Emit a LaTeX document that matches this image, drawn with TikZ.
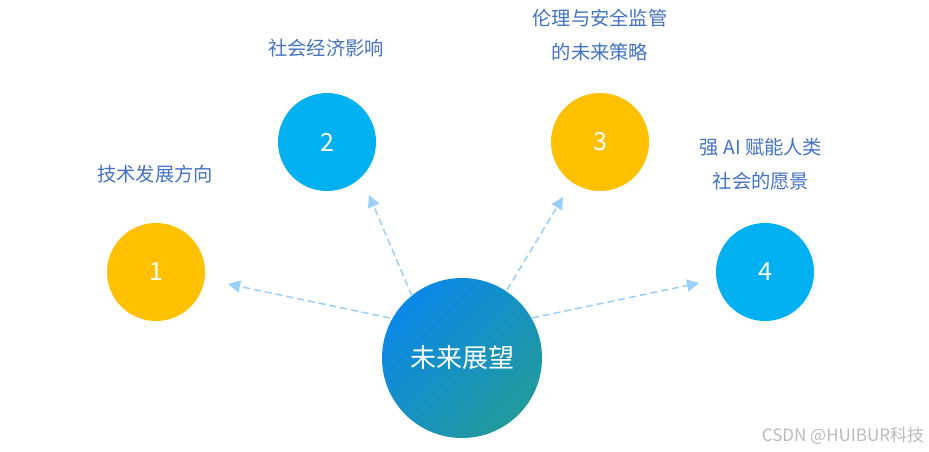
\documentclass[tikz,border=0pt]{standalone}
\usepackage{fontspec}
\setmainfont{Noto Sans CJK SC}
\usetikzlibrary{arrows.meta}
\definecolor{cyellow}{HTML}{FFC000}
\definecolor{ccyan}{HTML}{00B0F0}
\definecolor{ctext}{HTML}{4472C4}
\definecolor{carrow}{HTML}{99CFF8}
\definecolor{cgradA}{HTML}{0B88E8}
\definecolor{cgradB}{HTML}{229A9C}
\definecolor{cwater}{HTML}{BBBBBB}
\begin{document}
\begin{tikzpicture}[x=1pt,y=-1pt,
  ball/.style={circle,minimum size=98pt,inner sep=0pt,text=white,font=\fontsize{25}{25}\selectfont},
  yball/.style={ball,fill=cyellow},
  cball/.style={ball,fill=ccyan},
  lbl/.style={text=ctext,font=\fontsize{19.3}{34}\selectfont,align=center},
  conn/.style={draw=carrow,line width=1.5pt,dash pattern=on 7pt off 4pt,
    -{Triangle[length=12pt,width=12pt,fill=carrow]}}]
\useasboundingbox (0,0) rectangle (929,451);
\fill[white] (0,0) rectangle (929,451);
\node[circle,minimum size=160pt,inner sep=0pt,top color=cgradA,bottom color=cgradB,shading angle=45,text=white,font=\fontsize{26}{26}\selectfont] (c) at (462,358) {未来展望};
\node[yball] (n1) at (156,272) {1};
\node[cball] (n2) at (327,142) {2};
\node[yball] (n3) at (600,142) {3};
\node[cball] (n4) at (765,272) {4};
\node[lbl] (l1) at (155,174) {技术发展方向};
\node[lbl] (l2) at (326,48) {社会经济影响};
\node[lbl] (l3) at (600,35) {伦理与安全监管\\的未来策略};
\node[lbl] (l4) at (761,164) {强 AI 赋能人类\\社会的愿景};
\coordinate (s1) at (390,318);
\coordinate (t1) at (228,284);
\coordinate (s2) at (412,296);
\coordinate (t2) at (369,195);
\coordinate (s3) at (507,290);
\coordinate (t3) at (563,197);
\coordinate (s4) at (532,318);
\coordinate (t4) at (699,283);
\draw[conn] (s1) -- (t1);
\draw[conn] (s2) -- (t2);
\draw[conn] (s3) -- (t3);
\draw[conn] (s4) -- (t4);
\node[text=cwater,font=\fontsize{17}{17}\selectfont] (wm) at (843,436) {CSDN @HUIBUR科技};
\end{tikzpicture}
\end{document}
